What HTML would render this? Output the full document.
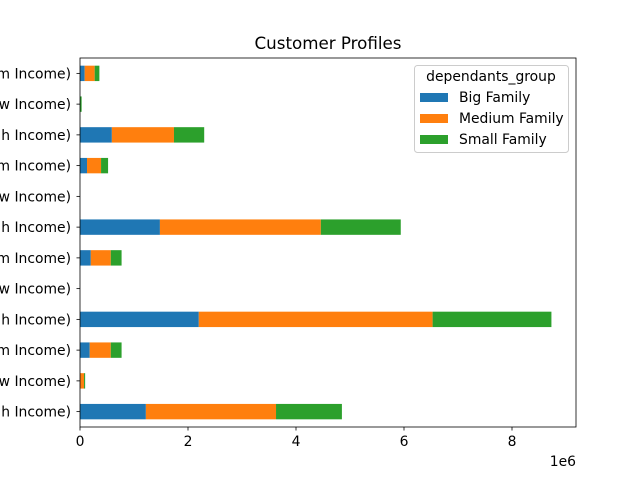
<!DOCTYPE html>
<html><head><meta charset="utf-8"><style>
body{margin:0;background:#fff}
svg text{font-family:"DejaVu Sans","Liberation Sans",sans-serif;fill:#000}
</style></head><body>
<svg width="640" height="480" xmlns="http://www.w3.org/2000/svg">
<g id="bars"></g>
<g id="axes"></g>
</svg>
<script>
const categories=["Single (Medium Income)","Single (Low Income)","Single (High Income)","Couple (Medium Income)","Couple (Low Income)","Couple (High Income)","Family (Medium Income)","Family (Low Income)","Family (High Income)","Group (Medium Income)","Group (Low Income)","Group (High Income)"];
const bigFamily=[0.087,0,0.59,0.13,0,1.48,0.2,0,2.2,0.18,0.005,1.22];
const mediumFamily=[0.185,0,1.15,0.26,0,2.98,0.37,0,4.33,0.39,0.07,2.41];
const smallFamily=[0.087,0.03,0.56,0.13,0,1.48,0.2,0,2.2,0.2,0.02,1.22];
const xTicks=[0,2,4,6,8];
const seriesNames=["Big Family","Medium Family","Small Family"];
const colors=["#1f77b4","#ff7f0e","#2ca02c"];
const NS="http://www.w3.org/2000/svg";
const L=80,R=576,T=58,B=427;
const xs=v=>L+v*54;
const rowH=(B-T)/categories.length;
const ys=i=>T+rowH*(i+0.5);
function mk(t,a,p){const e=document.createElementNS(NS,t);for(const k in a)e.setAttribute(k,a[k]);p.appendChild(e);return e;}
const bars=document.getElementById('bars'),axes=document.getElementById('axes');
const series=[bigFamily,mediumFamily,smallFamily];
categories.forEach((c,i)=>{
  let acc=0;
  series.forEach((s,j)=>{
    const r=mk('rect',{x:xs(acc),y:ys(i)-7.7,width:Math.max(0,xs(acc+s[i])-xs(acc)),height:15.4,fill:colors[j]},bars);
    
    
    acc+=s[i];
  });
  const tk=mk('line',{x1:L-3.5,x2:L,y1:ys(i),y2:ys(i),stroke:'#000','stroke-width':0.8},axes);
  
  
  const t=mk('text',{x:L-9,y:ys(i)+5,'text-anchor':'end','font-size':13.9},axes);
  t.textContent=c;
  
  
});
xTicks.forEach(v=>{
  const tk=mk('line',{x1:xs(v),x2:xs(v),y1:B,y2:B+3.5,stroke:'#000','stroke-width':0.8},axes);
  
  
  const t=mk('text',{x:xs(v),y:B+19,'text-anchor':'middle','font-size':13.9},axes);
  t.textContent=v;
  
  
});
const fr=mk('rect',{x:L,y:T,width:R-L,height:B-T,fill:'none',stroke:'#000','stroke-width':0.8},axes);


const ex=mk('text',{x:576,y:466,'text-anchor':'end','font-size':13.9},axes);
ex.textContent='1e6';


const ti=mk('text',{x:328,y:49,'text-anchor':'middle','font-size':16.7},axes);
ti.textContent='Customer Profiles';


const lg=mk('g',{},axes);


mk('rect',{x:414.5,y:65.5,width:154,height:87,rx:3,fill:'#fff','fill-opacity':0.8,stroke:'#ccc'},lg);
const lt=mk('text',{x:491,y:81,'text-anchor':'middle','font-size':13.9},lg);
lt.textContent='dependants_group';


seriesNames.forEach((n,j)=>{
  const y=97+j*21;
  const sw=mk('rect',{x:420,y:y-4,width:28,height:9,fill:colors[j]},lg);
  
  
  const t=mk('text',{x:459,y:y+5,'font-size':13.9},lg);
  t.textContent=n;
  
  
});
</script>
</body></html>
